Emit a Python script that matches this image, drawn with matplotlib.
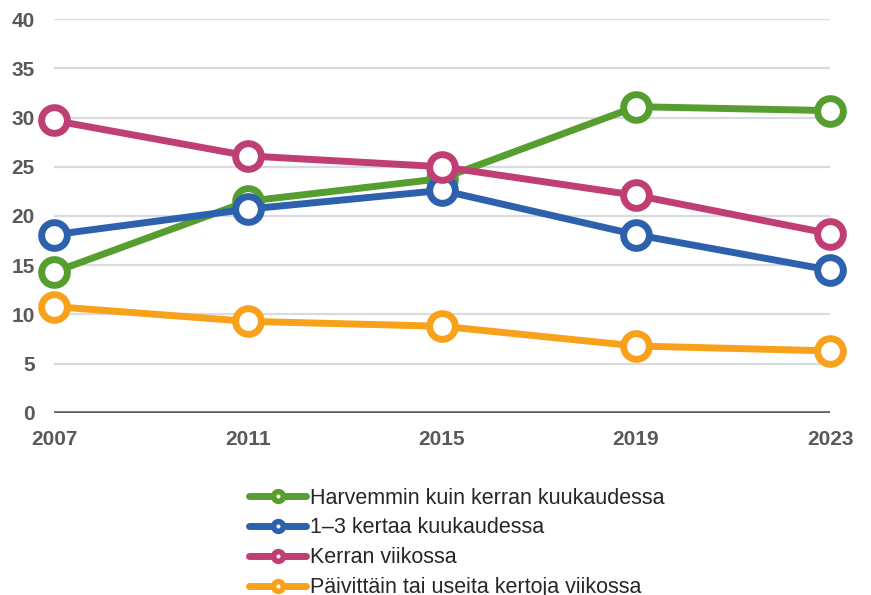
import matplotlib.pyplot as plt
from matplotlib.lines import Line2D

# Data
years = [2007, 2011, 2015, 2019, 2023]
labels = ["Harvemmin kuin kerran kuukaudessa",
          "1\u20133 kertaa kuukaudessa",
          "Kerran viikossa",
          "P\u00e4ivitt\u00e4in tai useita kertoja viikossa"]
green = [14.3, 21.5, 23.8, 31.1, 30.7]
blue = [18.1, 20.7, 22.6, 18.1, 14.5]
pink = [29.7, 26.1, 25.0, 22.1, 18.2]
orange = [10.8, 9.3, 8.8, 6.8, 6.3]
colors = ["#559e2f", "#2e61ad", "#bf3f74", "#f8a21b"]

plt.rcParams['font.family'] = ['Liberation Sans', 'DejaVu Sans']

fig = plt.figure(figsize=(8.71, 5.95), dpi=100)
ax = fig.add_axes([0.062, 0.306, 0.891, 0.662])

# Gridlines
for v in range(5, 45, 5):
    ax.axhline(v, color="#d9dbde", lw=1.6, zorder=0)
ax.axhline(0, color="#5f5f5f", lw=2.6, zorder=1)

handles = []
for vals, col, lab in zip([green, blue, pink, orange], colors, labels):
    ax.plot(years, vals, color=col, lw=5, marker="o", ms=18.5,
            mfc="white", mec=col, mew=5, solid_capstyle="round",
            clip_on=False, zorder=3)
    handles.append(Line2D([], [], color=col, lw=5, marker="o", ms=7,
                          mfc="white", mec=col, mew=4,
                          solid_capstyle="round", label=lab))

ax.set_xlim(2007, 2023)
ax.set_ylim(0, 40)
ax.set_xticks(years)
ax.set_yticks(range(0, 45, 5))
for s in ax.spines.values():
    s.set_visible(False)
ax.tick_params(length=0, labelsize=15, labelcolor="#595959")
ax.tick_params(axis="x", pad=12)
ax.tick_params(axis="y", pad=14)
for t in ax.get_xticklabels() + ax.get_yticklabels():
    t.set_fontweight("bold")

fig.legend(handles=handles, loc="upper left", bbox_to_anchor=(0.276, 0.195),
           frameon=False, fontsize=15.5, handlelength=2.65, handletextpad=0.2,
           labelspacing=0.41, borderaxespad=0, labelcolor="#262626")

fig.savefig("out.png", dpi=100)
